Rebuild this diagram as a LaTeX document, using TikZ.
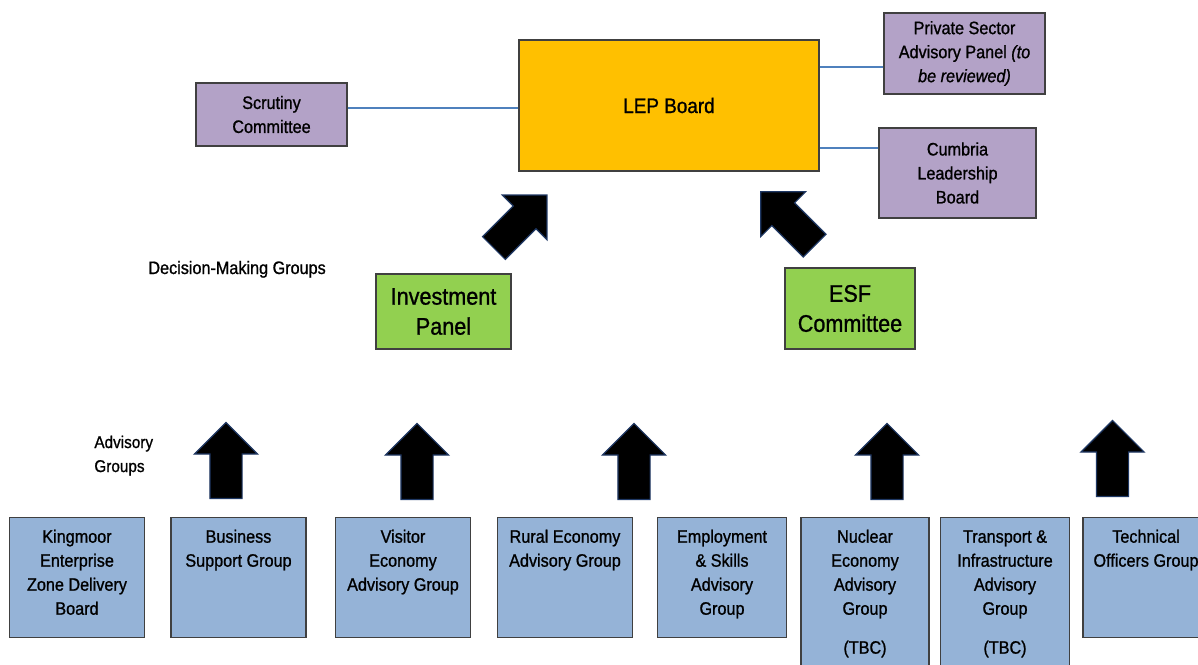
\documentclass[tikz,border=0pt]{standalone}
\usepackage{fontspec}
\setmainfont{Liberation Sans}[FakeStretch=0.9,FakeBold=1]
\usepackage{tikz}
\usetikzlibrary{calc,shapes.arrows}
\usepackage{xcolor}
\definecolor{lepgold}{HTML}{FFC000}
\definecolor{sidelilac}{HTML}{B3A2C7}
\definecolor{decgreen}{HTML}{92D050}
\definecolor{advblue}{HTML}{95B3D7}
\definecolor{boxedge}{HTML}{404040}
\definecolor{linkblue}{HTML}{4F81BD}
\definecolor{arrowedge}{HTML}{1F3864}

\begin{document}
\begin{tikzpicture}[x=0.5pt,y=0.5pt]
  \tikzset{orgbox/.style={draw=boxedge,line width=0.7pt,align=flush center,inner sep=2pt,font=\fontsize{9}{12}\selectfont}}
  \tikzset{sidebox/.style={orgbox,fill=sidelilac}}
  \tikzset{decbox/.style={orgbox,fill=decgreen,font=\fontsize{12}{15}\selectfont}}
  \tikzset{advbox/.style={orgbox,fill=advblue,anchor=north,inner ysep=4pt,text height=8.5pt,text depth=43.5pt,text width=63.5pt}}
  \tikzset{linkline/.style={draw=linkblue,line width=0.6pt}}
  \tikzset{blockarrow/.style={single arrow,single arrow head extend=7.75pt,inner xsep=0pt,inner ysep=7.75pt,minimum height=38pt,anchor=tail,fill=black,draw=arrowedge,line width=0.6pt}}
  \tikzset{grouplabel/.style={anchor=base west,inner sep=0pt,align=left,font=\fontsize{8.5}{12}\selectfont}}
  \useasboundingbox (0,0) rectangle (1198,-664);
  \clip (0,0) rectangle (1198,-664);
  \node[orgbox,fill=lepgold,line width=0.9pt,minimum width=150pt,minimum height=65.5pt,font=\fontsize{10.5}{13}\selectfont] (lep) at (669,-105.5) {LEP Board};
  \node[sidebox,minimum width=75.5pt,minimum height=31.5pt] (scr) at (271.5,-114.5) {Scrutiny\\Committee};
  \node[sidebox,minimum width=80.5pt,minimum height=40.5pt] (priv) at (964.5,-53.5) {Private Sector\\Advisory Panel \textit{(to}\\\textit{be reviewed)}};
  \node[sidebox,minimum width=78.5pt,minimum height=45pt] (cumb) at (957.5,-173) {Cumbria\\Leadership\\Board};
  \coordinate (sj) at ($(scr.east)+(0,6.5)$);
  \draw[linkline] (sj) -- (sj -| lep.west);
  \coordinate (pj) at ($(priv.west)+(0,-13.5)$);
  \draw[linkline] (pj) -- (pj -| lep.east);
  \coordinate (cj) at ($(cumb.west)+(0,25)$);
  \draw[linkline] (cj) -- (cj -| lep.east);
  \node[grouplabel,font=\fontsize{9}{12}\selectfont] (dmg) at (148,-274) {Decision-Making Groups};
  \node[decbox,minimum width=67.5pt,minimum height=37.5pt] (inv) at (443.5,-311.5) {Investment\\Panel};
  \node[decbox,minimum width=65pt,minimum height=40.5pt] (esf) at (850,-308.5) {ESF\\Committee};
  \node[blockarrow,rotate=45,minimum height=37.5pt] (a1) at (493.5,-248.5) {};
  \node[blockarrow,rotate=135] (a2) at (815,-246) {};
  \node[grouplabel] (adv) at (94,-472) {Advisory\\Groups};
  \node[advbox] (kez) at (77,-517) {Kingmoor\\Enterprise\\Zone Delivery\\Board};
  \node[advbox] (bsg) at (238.5,-517) {Business\\Support Group};
  \node[advbox] (veag) at (403,-517) {Visitor\\Economy\\Advisory Group};
  \node[advbox] (reag) at (565,-517) {Rural Economy\\Advisory Group};
  \node[advbox,text width=60.5pt] (esag) at (722,-517) {Employment\\\& Skills\\Advisory\\Group};
  \node[advbox,text width=60pt,text depth=63.5pt] (neag) at (865,-517) {Nuclear\\Economy\\Advisory\\Group\\[7.5pt](TBC)};
  \node[advbox,text width=60.3pt,text depth=63.5pt] (tiag) at (1005,-517) {Transport \&\\Infrastructure\\Advisory\\Group\\[7.5pt](TBC)};
  \node[advbox,text width=59pt] (tog) at (1146,-517) {Technical\\Officers Group};
  \node[blockarrow,rotate=90] (a3) at (226,-499) {};
  \node[blockarrow,rotate=90] (a4) at (417,-500) {};
  \node[blockarrow,rotate=90] (a5) at (634,-500) {};
  \node[blockarrow,rotate=90] (a6) at (887,-500) {};
  \node[blockarrow,rotate=90] (a7) at (1112.5,-497) {};
\end{tikzpicture}
\end{document}
